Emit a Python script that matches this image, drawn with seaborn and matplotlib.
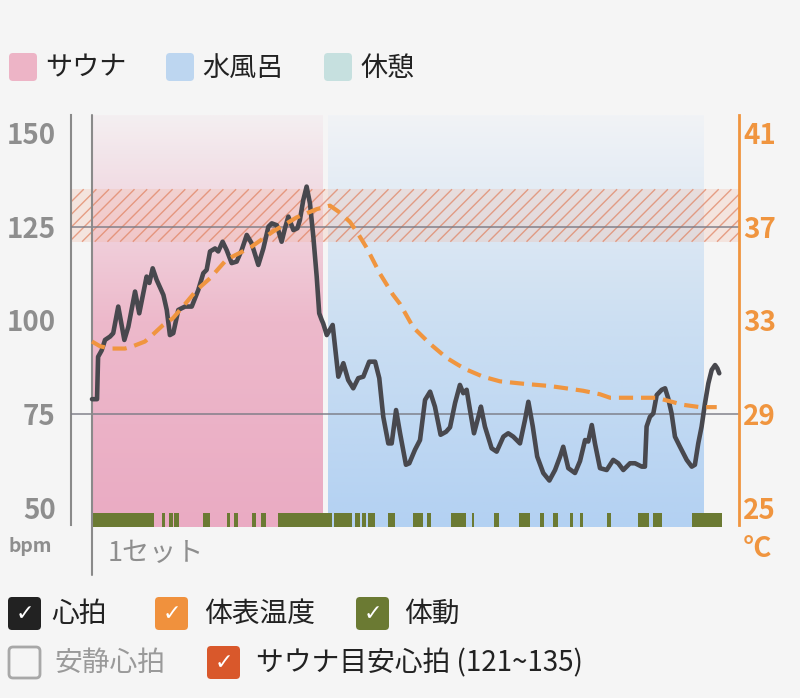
import numpy as np
import matplotlib
matplotlib.use("Agg")
import matplotlib.pyplot as plt
import seaborn as sns
from matplotlib.patches import FancyBboxPatch, Rectangle
from matplotlib.colors import LinearSegmentedColormap
from matplotlib.collections import LineCollection

# ---------------- data ----------------
hr_time = [0.00, 0.24, 0.29, 0.46, 0.62, 0.86, 1.01, 1.25, 1.54, 1.73, 2.05, 2.25, 2.60, 2.73,
           2.89, 3.08, 3.40, 3.56, 3.71, 3.87, 4.11, 4.43, 4.75, 5.06, 5.30, 5.46, 5.62, 5.86,
           6.01, 6.22, 6.41, 6.65, 6.89, 7.13, 7.37, 7.60, 7.92, 8.16, 8.40, 8.56, 8.80, 9.03,
           9.19, 9.35, 9.59, 9.78, 9.90, 10.06, 10.22, 10.38, 10.54, 10.70, 10.82, 10.94, 11.01,
           11.18, 11.46, 11.73, 11.97, 12.20, 12.44, 12.68, 12.92, 13.20, 13.48, 13.68, 13.87,
           14.11, 14.27, 14.48, 14.67, 14.95, 15.11, 15.38, 15.62, 15.86, 16.10, 16.33, 16.60,
           16.86, 17.05, 17.29, 17.52, 17.68, 17.84, 18.00, 18.19, 18.40, 18.52, 18.71, 19.03,
           19.27, 19.59, 19.82, 20.06, 20.38, 20.62, 20.78, 20.99, 21.20, 21.49, 21.78, 22.05,
           22.29, 22.44, 22.68, 23.00, 23.24, 23.48, 23.63, 23.80, 23.95, 24.19, 24.51, 24.82,
           25.06, 25.30, 25.62, 25.86, 26.18, 26.33, 26.41, 26.57, 26.73, 26.89, 27.13, 27.29,
           27.44, 27.60, 27.76, 28.00, 28.32, 28.56, 28.71, 28.87, 29.03, 29.19, 29.35, 29.51,
           29.67, 29.78, 29.87]
hr_bpm = [79.0, 79.0, 90.3, 92.0, 94.8, 95.7, 96.6, 103.7, 94.8, 98.3, 107.7, 101.9, 111.7, 110.0,
          113.9, 110.8, 106.8, 102.8, 96.1, 96.6, 102.8, 103.7, 103.7, 108.1, 112.6, 113.5, 118.4,
          119.2, 118.4, 121.0, 118.8, 115.3, 115.7, 118.8, 122.8, 120.6, 114.8, 119.2, 125.0, 125.9,
          125.4, 121.0, 124.6, 127.7, 124.1, 124.6, 126.8, 132.1, 135.7, 131.2, 122.3, 111.7, 101.9,
          100.1, 99.2, 96.1, 98.8, 85.0, 88.6, 84.1, 81.9, 84.6, 85.0, 89.0, 89.0, 84.6, 74.3,
          67.2, 67.2, 76.1, 69.9, 61.5, 61.9, 65.5, 68.1, 78.8, 81.0, 77.0, 69.5, 70.3, 71.5,
          78.0, 82.8, 80.6, 81.5, 76.1, 69.9, 74.3, 77.0, 71.7, 65.9, 65.0, 69.0, 69.9, 69.0,
          67.2, 73.5, 78.3, 71.7, 63.7, 59.3, 57.3, 60.1, 63.7, 66.3, 60.6, 59.3, 62.5, 68.1,
          67.7, 72.1, 67.2, 60.6, 60.1, 62.8, 61.9, 60.1, 61.9, 61.9, 61.0, 61.0, 71.7, 74.3,
          75.2, 80.1, 81.5, 81.9, 79.2, 75.2, 69.0, 66.3, 62.8, 61.0, 61.5, 67.2, 71.7, 77.9,
          83.2, 86.8, 88.1, 87.2, 85.9]

temp_time = [0.00, 0.38, 0.86, 1.57, 1.95, 2.52, 2.90, 3.38, 3.86, 4.43, 4.99, 5.62, 6.41, 7.52,
             8.63, 9.75, 10.70, 11.33, 11.81, 12.29, 12.67, 13.08, 13.71, 14.33, 14.67, 15.30,
             16.10, 16.89, 17.44, 17.84, 18.62, 19.43, 20.52, 21.81, 22.60, 23.38, 24.19, 24.67,
             25.76, 26.89, 27.52, 28.14, 28.95, 29.75]
temp_c = [32.1, 31.9, 31.8, 31.8, 31.9, 32.1, 32.4, 32.8, 33.1, 33.7, 34.3, 34.8, 35.6, 36.1,
          36.8, 37.4, 37.75, 37.9, 37.6, 37.2, 36.7, 36.1, 35.0, 34.1, 33.7, 32.7,
          32.0, 31.4, 31.1, 30.9, 30.6, 30.4, 30.3, 30.2, 30.1, 30.0, 29.85, 29.7,
          29.7, 29.7, 29.55, 29.4, 29.3, 29.3]

move_start = [0.00, 3.31, 3.68, 3.92, 5.30, 6.41, 6.78, 7.62, 8.03, 8.88, 11.54, 12.51, 12.87,
              13.16, 14.08, 15.29, 15.97, 17.10, 18.08, 19.16, 20.32, 21.34, 21.95, 22.74,
              23.23, 24.53, 26.01, 26.70, 28.55]
move_dur = [2.95, 0.17, 0.17, 0.24, 0.31, 0.17, 0.17, 0.17, 0.24, 2.54, 0.85, 0.24, 0.20,
            0.31, 0.37, 0.49, 0.17, 0.73, 0.12, 0.20, 0.53, 0.19, 0.24, 0.17,
            0.17, 0.20, 0.53, 0.44, 1.45]

phase_names = ["サウナ", "水風呂", "休憩"]
phase_start = [0.0, 11.24]
phase_end = [11.0, 29.1]

bpm_ticks = [50, 75, 100, 125, 150]
temp_ticks = [25, 29, 33, 37, 41]
ref_lines = [125, 75]
target_low, target_high = 121, 135
set_label = "1セット"

# ---------------- style ----------------
BG = "#F5F5F5"
GRAY = "#8E8E8E"
ORANGE = "#F0953F"
OLIVE = "#6B7A33"
sns.set_theme(style="white", rc={"axes.facecolor": BG, "figure.facecolor": BG})
plt.rcParams["font.family"] = ["Noto Sans CJK JP", "DejaVu Sans"]

W, H = 800, 698
fig = plt.figure(figsize=(8, 6.98), dpi=100)


def frac(x0, y0, x1, y1):
    return [x0 / W, 1 - y1 / H, (x1 - x0) / W, (y1 - y0) / H]


ax = fig.add_axes(frac(71, 115, 739, 527))
XLO, XHI = -1.0, 30.81
YLO, YHI = 44.9, 154.8
TLO = 25 + (YLO - 50) * 0.16
THI = 25 + (YHI - 50) * 0.16

# phase gradients
grad = np.linspace(0, 1, 256).reshape(-1, 1)
cmaps = [LinearSegmentedColormap.from_list("s", ["#F4EFF1", "#EDB9CB", "#EAABC3"]),
         LinearSegmentedColormap.from_list("w", ["#F1F3F6", "#CCDFF2", "#B3D1F2"])]
for s, e, cm in zip(phase_start, phase_end, cmaps):
    ax.imshow(grad, extent=[s, e, YLO, YHI], aspect="auto", cmap=cm, origin="upper",
              zorder=0, interpolation="bilinear")

# target zone band with hatch
ax.axhspan(target_low, target_high, facecolor="#F4B49A", alpha=0.25, lw=0, zorder=1)
AXW, AXH = 668.0, 412.0
yb = (target_low - YLO) / (YHI - YLO) * AXH
yt = (target_high - YLO) / (YHI - YLO) * AXH
hh = yt - yb
segs = []
x = -hh
while x < AXW + 5:
    segs.append([(x / AXW, yb / AXH), ((x + hh) / AXW, yt / AXH)])
    x += 12.7
lc = LineCollection(segs, colors="#E0805E", linewidths=1.0, alpha=0.7,
                    transform=ax.transAxes, zorder=2)
clip = Rectangle((0, yb / AXH), 1, hh / AXH, transform=ax.transAxes)
lc.set_clip_path(clip)
ax.add_collection(lc)

for r in ref_lines:
    ax.axhline(r, color="#7C7C86", lw=1.3, alpha=0.8, zorder=3)

# movement rug
ax.broken_barh(list(zip(move_start, move_dur)), (YLO, 48.7 - YLO), facecolors=OLIVE,
               edgecolor="none", zorder=4)

# start line
ax.axvline(0, ymin=-48 / AXH, ymax=1, clip_on=False, color="#8A8A8A", lw=1.5, zorder=4)

# heart rate
sns.lineplot(x=hr_time, y=hr_bpm, ax=ax, color="#48484E", lw=3.3, zorder=6,
             solid_joinstyle="round", solid_capstyle="round")

ax.set_xlim(XLO, XHI)
ax.set_ylim(YLO, YHI)
ax.set_xticks([])
ax.set_yticks(bpm_ticks)
ax.set_yticklabels([str(t) for t in bpm_ticks])
ax.tick_params(axis="y", length=0, pad=11, labelsize=20, labelcolor=GRAY)
for lbl in ax.get_yticklabels():
    lbl.set_fontweight("bold")
for sp in ["top", "right", "bottom"]:
    ax.spines[sp].set_visible(False)
ax.spines["left"].set_color("#8A8A8A")
ax.spines["left"].set_linewidth(1.5)
ax.spines["left"].set_bounds(45.4, YHI)
ax.set_xlabel("")
ax.set_ylabel("")

# temperature
ax2 = ax.twinx()
sns.lineplot(x=temp_time, y=temp_c, ax=ax2, color=ORANGE, lw=3.0,
             linestyle=(0, (3.4, 1.9)), zorder=7)
ax2.set_ylim(TLO, THI)
ax2.set_xlim(XLO, XHI)
ax2.set_yticks(temp_ticks)
ax2.set_yticklabels([str(t) for t in temp_ticks])
ax2.tick_params(axis="y", length=0, pad=3, labelsize=20, labelcolor=ORANGE)
for lbl in ax2.get_yticklabels():
    lbl.set_fontweight("bold")
for sp in ["top", "left", "bottom"]:
    ax2.spines[sp].set_visible(False)
ax2.spines["right"].set_color(ORANGE)
ax2.spines["right"].set_linewidth(2)
ax2.spines["right"].set_bounds(25 + (45.4 - 50) * 0.16, THI)
ax2.set_xlabel("")
ax2.set_ylabel("")
ax2.grid(False)
ax.grid(False)

# ---------------- overlay (legends, labels) ----------------
ov = fig.add_axes([0, 0, 1, 1], zorder=10)
ov.set_xlim(0, W)
ov.set_ylim(H, 0)
ov.axis("off")
ov.patch.set_alpha(0)


def box(x0, y0, size, fc, ec="none", lw=0, r=4):
    p = FancyBboxPatch((x0 + r, y0 + r), size - 2 * r, size - 2 * r,
                       boxstyle=f"round,pad={r}", fc=fc, ec=ec, lw=lw)
    ov.add_patch(p)


phase_colors = ["#EDB4C6", "#BDD6F0", "#C6E0DF"]
phase_box_x = [9, 166, 324]
for name, col, bx in zip(phase_names, phase_colors, phase_box_x):
    box(bx, 53, 28, col)
    ov.text(bx + 36, 68, name, fontsize=19.5, va="center", ha="left", color="#222222")

ov.text(8, 547, "bpm", fontsize=14, va="center", ha="left", color=GRAY, fontweight="bold")
ov.text(743, 549, "°C", fontsize=20, va="center", ha="left", color=ORANGE, fontweight="bold")
ov.text(108, 553, set_label, fontsize=19.5, va="center", ha="left", color=GRAY)

check_items = [
    (8, 597, "#222222", "心拍", 51, "#222222", True),
    (155, 597, "#F0913D", "体表温度", 204, "#222222", True),
    (356, 597, OLIVE, "体動", 404, "#222222", True),
    (8, 646, None, "安静心拍", 54, "#9A9A9A", False),
    (207, 646, "#D9582B", "サウナ目安心拍 (121~135)", 256, "#222222", True),
]
for bx, by, col, label, tx, tcol, checked in check_items:
    if checked:
        box(bx, by, 33, col, r=4)
        ov.text(bx + 16.5, by + 17, "✓", fontsize=16, ha="center", va="center",
                color="white", family="DejaVu Sans")
    else:
        box(bx + 1, by + 1, 31, "none", ec="#A8A8A8", lw=2, r=4)
    ov.text(tx, by + 17, label, fontsize=20, va="center", ha="left", color=tcol)

fig.savefig("out.png", dpi=100, facecolor=BG)
